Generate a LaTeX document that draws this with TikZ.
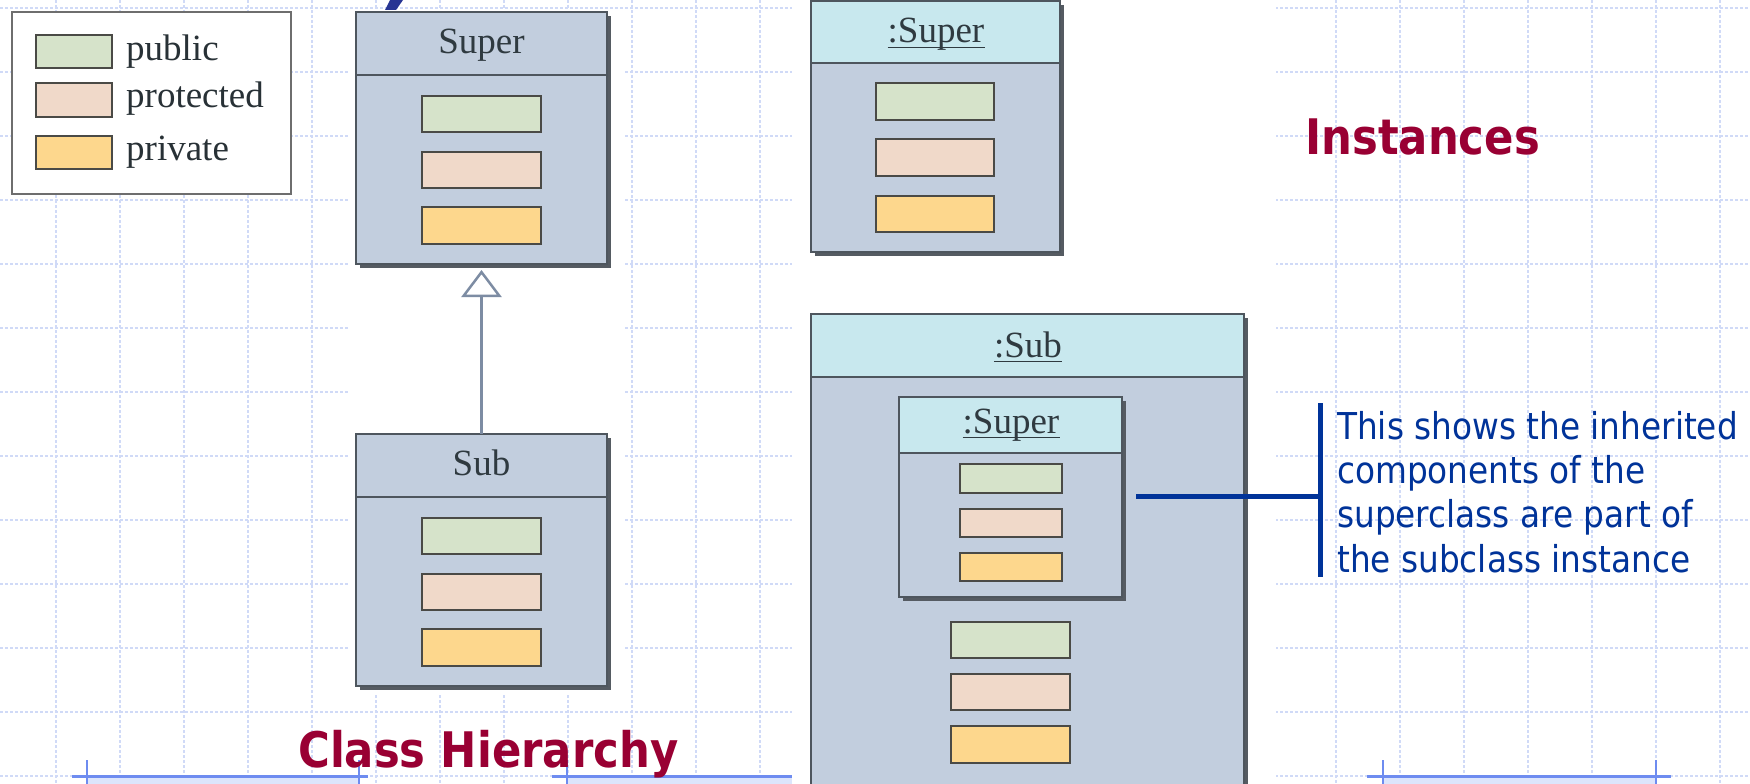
\documentclass[tikz,border=0pt]{standalone}
\usepackage{fontspec}
\setmainfont{Liberation Serif}
\newfontfamily\tahomafont[FakeStretch=0.885]{DejaVu Sans}
\usetikzlibrary{calc,arrows.meta}
\definecolor{gridc}{RGB}{208,218,247}
\definecolor{barc}{RGB}{110,140,240}
\definecolor{bandc}{RGB}{220,229,252}
\definecolor{bodyc}{RGB}{194,206,222}
\definecolor{headc}{RGB}{200,232,238}
\definecolor{pubc}{RGB}{214,227,202}
\definecolor{protc}{RGB}{240,217,201}
\definecolor{privc}{RGB}{253,215,141}
\definecolor{borderc}{RGB}{78,86,94}
\definecolor{shadowc}{RGB}{85,91,98}
\definecolor{memberc}{RGB}{74,74,70}
\definecolor{legendc}{RGB}{110,110,110}
\definecolor{textc}{RGB}{47,58,64}
\definecolor{arrowc}{RGB}{125,140,163}
\definecolor{titlec}{RGB}{153,0,51}
\definecolor{navyc}{RGB}{0,51,153}
\definecolor{topc}{RGB}{40,53,147}
\newcommand\umlfont{\fontsize{37}{44}\selectfont}
\newcommand\callfont{\tahomafont\fontsize{37}{44}\selectfont}
\newcommand\titlefont{\tahomafont\bfseries\fontsize{49}{56}\selectfont}
\tikzset{
  gridline/.style={draw=gridc, line width=1.4pt, dash pattern=on 3pt off 2pt},
  barline/.style={draw=barc, line width=3pt},
  bartick/.style={draw=barc, line width=2.5pt},
  umlbox/.style={draw=borderc, line width=2pt, fill=bodyc, inner sep=0pt, outer sep=0pt,
    preaction={fill=shadowc, draw=none, transform canvas={xshift=4pt, yshift=-4pt}}},
  instheader/.style={draw=borderc, line width=2pt, fill=headc, inner sep=0pt, outer sep=0pt},
  divider/.style={draw=borderc, line width=2pt},
  member/.style={draw=memberc, line width=1.8pt, inner sep=0pt, outer sep=0pt, anchor=north west},
  legendbox/.style={draw=legendc, line width=1.6pt, fill=white, inner sep=0pt, anchor=north west},
  legtext/.style={font=\umlfont, text=textc!85!black, inner sep=0pt, anchor=base west},
  umltext/.style={font=\umlfont, text=textc, inner sep=0pt, anchor=base},
  uline/.style={draw=textc, line width=1.6pt},
  inherit/.style={draw=arrowc, line width=2.5pt, -{Triangle[open, length=27pt, width=40pt, line width=2.5pt]}},
  titletext/.style={font=\titlefont, text=titlec, inner sep=0pt, anchor=base west},
  calltext/.style={font=\callfont, text=navyc, inner sep=0pt, anchor=base west},
  callline/.style={draw=navyc, line width=5pt}
}
\begin{document}
\begin{tikzpicture}[x=1pt,y=-1pt]
\useasboundingbox (0,0) rectangle (1750,784);
\fill[white] (0,0) rectangle (1750,784);
% background grid
\foreach \gx in {-8,56,...,1720} \draw[gridline] (\gx,0) -- (\gx,784);
\foreach \gy in {8,72,...,776} \draw[gridline] (0,\gy) -- (1750,\gy);
% bottom bars
\fill[bandc] (87,778) rectangle (359,784);
\fill[bandc] (567,778) rectangle (850,784);
\fill[bandc] (1383,778) rectangle (1656,784);
\draw[barline] (72,776) -- (368,776);
\draw[barline] (552,776) -- (850,776);
\draw[barline] (1367,776) -- (1671,776);
\foreach \tx in {87,359,567,1383,1656} \draw[bartick] (\tx,760) -- (\tx,784);
% white picture areas
\fill[white] (350,10) rectangle (625,695);
\fill[white] (792,0) rectangle (1276,784);
% fragment of a title glyph cut by the top edge
\fill[topc] (390,0) -- (403,0) -- (396,10) -- (385,10) -- cycle;

% legend
\node[legendbox, minimum width=279, minimum height=182] (legend) at (11,11) {};
\node[member, fill=pubc, minimum width=76, minimum height=33] (lpub) at (36,35) {};
\node[member, fill=protc, minimum width=76, minimum height=34] (lprot) at (36,83) {};
\node[member, fill=privc, minimum width=76, minimum height=33] (lpriv) at (36,136) {};
\node[legtext] (tpub) at (126,60) {public};
\node[legtext] (tprot) at (126,107) {protected};
\node[legtext] (tpriv) at (126,160) {private};

% class Super
\node[umlbox, anchor=north west, minimum width=251, minimum height=252] (superc) at (356,12) {};
\draw[divider] ($(superc.north west)+(0,63)$) -- ($(superc.north east)+(0,63)$);
\node[umltext] (supert) at (481.5,53) {Super};
\node[member, fill=pubc, minimum width=119, minimum height=36] (sc1) at (422,96) {};
\node[member, fill=protc, minimum width=119, minimum height=36] (sc2) at (422,152) {};
\node[member, fill=privc, minimum width=119, minimum height=37] (sc3) at (422,207) {};

% class Sub
\node[umlbox, anchor=north west, minimum width=251, minimum height=252] (subc) at (356,434) {};
\draw[divider] ($(subc.north west)+(0,63)$) -- ($(subc.north east)+(0,63)$);
\node[umltext] (subt) at (481.5,475) {Sub};
\node[member, fill=pubc, minimum width=119, minimum height=36] (bc1) at (422,518) {};
\node[member, fill=protc, minimum width=119, minimum height=36] (bc2) at (422,574) {};
\node[member, fill=privc, minimum width=119, minimum height=37] (bc3) at (422,629) {};

% generalization
\draw[inherit, shorten >=6pt] (subc.north) -- (superc.south);

% instance :Super
\node[umlbox, anchor=north west, minimum width=249, minimum height=251] (isup) at (811,1) {};
\node[instheader, anchor=north west, minimum width=249, minimum height=62] (isuph) at (811,1) {};
\node[umltext] (isupt) at (936,43) {:Super};
\draw[uline] ($(isupt.base west)+(0,4.5)$) -- ($(isupt.base east)+(0,4.5)$);
\node[member, fill=pubc, minimum width=118, minimum height=37] (ic1) at (876,83) {};
\node[member, fill=protc, minimum width=118, minimum height=37] (ic2) at (876,139) {};
\node[member, fill=privc, minimum width=118, minimum height=36] (ic3) at (876,196) {};

% instance :Sub
\node[umlbox, anchor=north west, minimum width=433, minimum height=520] (isub) at (811,314) {};
\node[instheader, anchor=north west, minimum width=433, minimum height=63] (isubh) at (811,314) {};
\node[umltext] (isubt) at (1028,357) {:Sub};
\draw[uline] ($(isubt.base west)+(0,4.5)$) -- ($(isubt.base east)+(0,4.5)$);
% nested :Super
\node[umlbox, anchor=north west, minimum width=223, minimum height=200] (nsup) at (899,397) {};
\node[instheader, anchor=north west, minimum width=223, minimum height=56] (nsuph) at (899,397) {};
\node[umltext] (nsupt) at (1011,433) {:Super};
\draw[uline] ($(nsupt.base west)+(0,4.5)$) -- ($(nsupt.base east)+(0,4.5)$);
\node[member, fill=pubc, minimum width=102, minimum height=29] (nc1) at (960,464) {};
\node[member, fill=protc, minimum width=102, minimum height=28] (nc2) at (960,509) {};
\node[member, fill=privc, minimum width=102, minimum height=28] (nc3) at (960,553) {};
% own members of :Sub
\node[member, fill=pubc, minimum width=119, minimum height=36] (uc1) at (951,622) {};
\node[member, fill=protc, minimum width=119, minimum height=36] (uc2) at (951,674) {};
\node[member, fill=privc, minimum width=119, minimum height=37] (uc3) at (951,726) {};

% titles
\node[titletext] (insttitle) at (1305,154) {Instances};
\node[titletext] (classtitle) at (298,767) {Class Hierarchy};

% callout
\coordinate (cstart) at (1136,496);
\coordinate (bartop) at (1320,403);
\coordinate (barmid) at (1320,496);
\coordinate (barbot) at (1320,577);
\draw[callline] (bartop) -- (barbot);
\draw[callline] (cstart) -- (barmid);
\node[calltext] (cl1) at (1337,439) {This shows the inherited};
\node[calltext] (cl2) at (1337,483) {components of the};
\node[calltext] (cl3) at (1337,527) {superclass are part of};
\node[calltext] (cl4) at (1337,572) {the subclass instance};
\end{tikzpicture}
\end{document}
